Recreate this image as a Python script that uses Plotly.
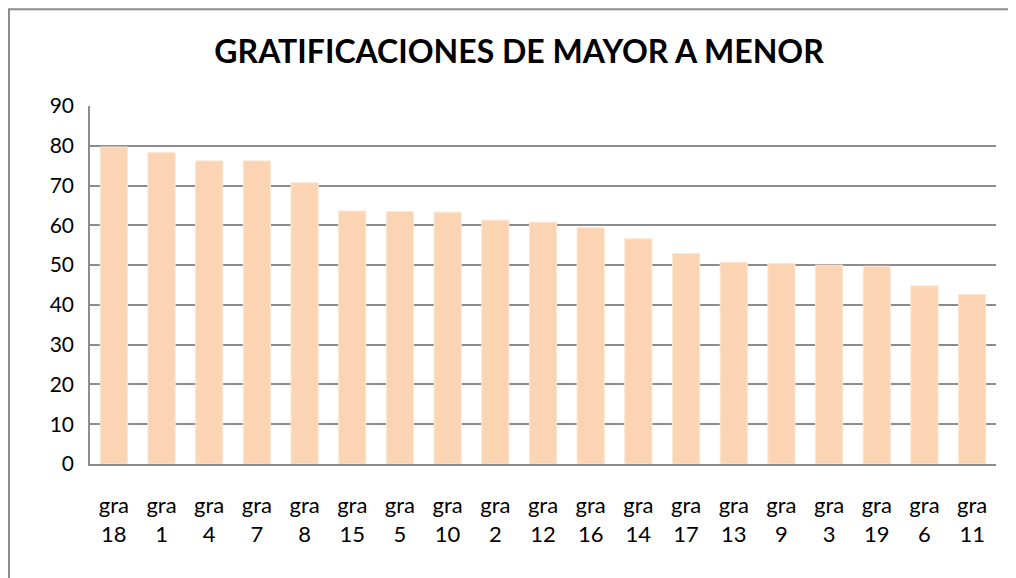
import plotly.graph_objects as go

# datos (ordenados de mayor a menor)
categorias = ["gra<br>18", "gra<br>1", "gra<br>4", "gra<br>7", "gra<br>8", "gra<br>15",
              "gra<br>5", "gra<br>10", "gra<br>2", "gra<br>12", "gra<br>16", "gra<br>14",
              "gra<br>17", "gra<br>13", "gra<br>9", "gra<br>3", "gra<br>19", "gra<br>6",
              "gra<br>11"]
valores = [79.7, 78.3, 76.2, 76.2, 70.7, 63.6, 63.5, 63.3, 61.3, 60.8, 59.4, 56.6,
           52.9, 50.7, 50.4, 50.0, 49.7, 44.8, 42.6]
ticks_y = [0, 10, 20, 30, 40, 50, 60, 70, 80, 90]

FUENTE = "Lato"

fig = go.Figure()

fig.add_trace(
    go.Bar(x=categorias,
           y=valores,
           width=0.57,
           marker=dict(color="#FBD4B4", line=dict(color="#FDE6D2", width=1)),
           hoverinfo="x+y"))

fig.update_layout(
    width=1016,
    height=578,
    paper_bgcolor="white",
    plot_bgcolor="white",
    margin=dict(l=82, r=28, t=98, b=122),
    showlegend=False,
    font=dict(family=FUENTE, size=21, color="black"),
    title=dict(text="<b>GRATIFICACIONES DE MAYOR A MENOR</b>",
               x=0.503,
               xanchor="center",
               y=0.924,
               yanchor="middle",
               font=dict(family=FUENTE, size=32, color="black")),
    bargap=0.43,
)

fig.update_yaxes(range=[0, 90],
                 tickvals=ticks_y,
                 showgrid=True,
                 gridcolor="#8C8C8C",
                 gridwidth=1.5,
                 showline=True,
                 linecolor="#8C8C8C",
                 linewidth=1.5,
                 ticks="",
                 ticklabelstandoff=10,
                 zeroline=False,
                 fixedrange=True)

fig.update_xaxes(showline=True,
                 linecolor="#8C8C8C",
                 linewidth=1.5,
                 ticks="",
                 ticklabelstandoff=21,
                 tickfont=dict(size=22),
                 tickangle=0,
                 fixedrange=True)

# borde exterior del area del grafico
fig.add_shape(type="rect",
              xref="paper", yref="paper",
              x0=-0.0894, x1=1.06,
              y0=-0.4, y1=1.27,
              line=dict(color="#8C8C8C", width=2),
              fillcolor="rgba(0,0,0,0)",
              layer="below")

fig.write_html("out.html")
